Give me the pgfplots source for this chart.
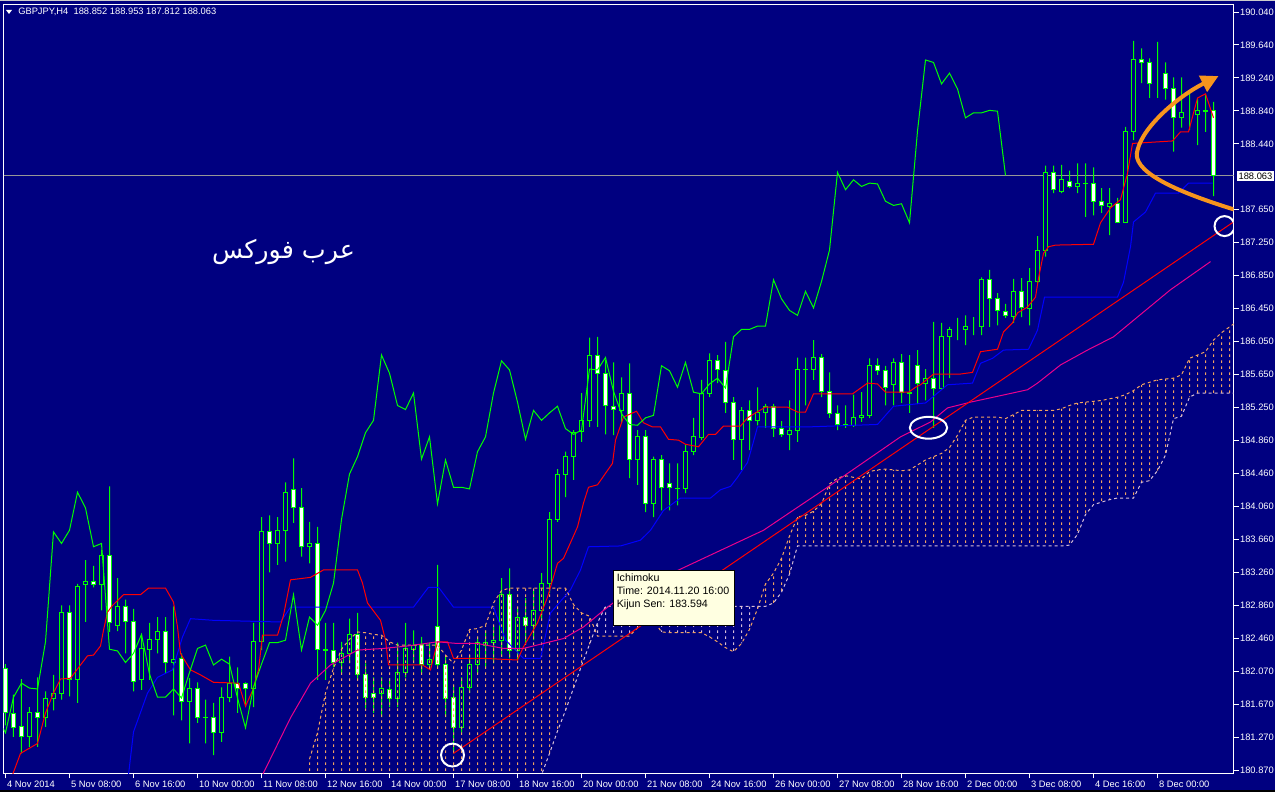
\documentclass[border=0pt]{standalone}
\usepackage{pgfplots}
\pgfplotsset{compat=1.18}
\usepackage{pgfplotstable}
\usetikzlibrary{arrows.meta,patterns}
\usepackage{fontspec}
\setmainfont{Liberation Sans}
\newfontfamily\arabicfont[Script=Arabic]{DejaVu Sans}
\TeXXeTstate=1

\definecolor{chartbg}{RGB}{0,0,128}
\definecolor{cgreen}{RGB}{0,255,0}
\definecolor{sandy}{RGB}{244,164,96}
\definecolor{thistle}{RGB}{216,191,216}
\definecolor{arrowor}{RGB}{247,148,29}
\definecolor{tipbg}{RGB}{255,255,225}
\definecolor{bidline}{RGB}{150,150,150}

% dotted hatching of the kumo: 3px on, 3px off
\pgfdeclarepatternformonly{vdash}{\pgfqpoint{0pt}{0pt}}{\pgfqpoint{1pt}{4.5pt}}{\pgfqpoint{1pt}{4.5pt}}%
  {\pgfpathrectangle{\pgfqpoint{0pt}{0pt}}{\pgfqpoint{1pt}{2.25pt}}\pgfusepath{fill}}

% 1px = 0.75pt, one bar = 8px; bar centres sit on pixel centres
\pgfplotsset{chartbase/.style={at={(2.625pt,16.125pt)}, anchor=south west,
  scale only axis, width=922.5pt, height=576.75pt,
  xmin=-0.25, xmax=153.5, ymin=180.827, ymax=190.131}}

% GBPJPY H4, one row per bar: index, open, high, low, close
\pgfplotstableread{
i o h l c
0 182.10 182.15 181.41 181.56
1 181.55 181.78 181.27 181.38
2 181.39 181.97 181.07 181.27
3 181.27 181.63 181.15 181.56
4 181.56 181.99 181.15 181.51
5 181.51 181.82 181.39 181.74
6 181.74 182.02 181.59 181.80
7 181.80 182.86 181.72 182.77
8 182.77 182.86 181.76 181.96
9 181.97 183.12 181.68 183.09
10 183.11 183.41 182.66 183.15
11 183.15 183.34 183.08 183.11
12 183.11 183.53 182.80 183.46
13 183.46 184.30 182.54 182.65
14 182.62 183.19 182.55 182.85
15 182.85 182.93 182.28 182.67
16 182.67 182.82 181.82 181.94
17 181.96 182.50 181.84 182.34
18 182.33 182.65 181.96 182.45
19 182.45 182.72 182.28 182.54
20 182.54 182.72 182.04 182.17
21 182.17 182.85 181.53 182.21
22 182.22 182.28 181.47 181.70
23 181.70 181.98 181.19 181.85
24 181.85 181.93 181.44 181.51
25 181.51 181.72 181.19 181.50
26 181.50 181.68 181.05 181.32
27 181.32 181.87 181.21 181.75
28 181.75 182.24 181.69 181.92
29 181.92 182.11 181.56 181.86
30 181.92 181.93 181.63 181.85
31 181.85 182.65 181.63 182.42
32 182.42 183.93 182.32 183.75
33 183.75 183.95 183.26 183.61
34 183.61 183.93 183.35 183.77
35 183.77 184.35 183.39 184.23
36 184.26 184.64 183.86 184.04
37 184.04 184.28 183.45 183.57
38 183.57 183.87 183.37 183.61
39 183.61 183.81 181.96 182.33
40 182.33 182.65 181.96 182.31
41 182.31 182.65 182.11 182.17
42 182.17 182.42 182.04 182.28
43 182.28 182.70 182.16 182.51
44 182.51 182.77 181.96 182.03
45 182.02 182.16 181.62 181.75
46 181.80 181.99 181.56 181.75
47 181.79 181.99 181.51 181.85
48 181.84 181.98 181.63 181.74
49 181.74 182.41 181.63 182.05
50 182.05 182.65 181.99 182.34
51 182.33 182.56 182.16 182.38
52 182.39 182.48 182.04 182.14
53 182.14 182.41 182.08 182.21
54 182.61 183.35 182.11 182.15
55 182.15 182.24 181.51 181.74
56 181.75 181.90 181.07 181.38
57 181.38 181.99 181.32 181.87
58 181.87 182.26 181.80 182.15
59 182.15 182.48 182.04 182.41
60 182.38 182.56 182.11 182.41
61 182.41 182.62 182.16 182.44
62 182.44 183.19 182.24 182.99
63 182.99 183.31 182.22 182.32
64 182.32 182.84 182.20 182.72
65 182.72 182.95 182.41 182.62
66 182.62 183.05 182.44 182.80
67 182.80 183.25 182.68 183.13
68 183.13 183.99 183.01 183.90
69 183.90 184.51 183.87 184.45
70 184.45 184.72 184.17 184.66
71 184.66 184.98 184.38 184.95
72 184.96 185.43 184.84 185.10
73 185.10 186.10 185.02 185.89
74 185.89 186.11 185.02 185.67
75 185.67 185.83 184.93 185.28
76 185.27 185.80 184.92 185.23
77 185.22 185.62 185.07 185.43
78 185.43 185.79 184.40 184.63
79 184.63 184.98 184.32 184.90
80 184.90 184.98 183.99 184.09
81 184.09 184.66 183.93 184.62
82 184.62 184.68 184.01 184.29
83 184.33 184.58 184.01 184.29
84 184.28 184.58 184.07 184.27
85 184.27 184.80 184.22 184.72
86 184.72 185.13 184.68 184.90
87 184.89 185.59 184.86 185.43
88 185.43 185.91 185.38 185.82
89 185.82 185.89 185.55 185.71
90 185.70 186.05 185.19 185.32
91 185.32 185.38 184.62 184.87
92 184.87 185.26 184.50 185.22
93 185.22 185.34 184.74 185.10
94 185.10 185.50 185.04 185.19
95 185.19 185.30 185.01 185.27
96 185.27 185.30 184.90 185.00
97 185.00 185.09 184.90 184.93
98 184.93 185.34 184.74 184.98
99 184.98 185.86 184.84 185.72
100 185.72 185.86 185.28 185.71
101 185.71 186.07 185.59 185.86
102 185.86 185.90 185.38 185.45
103 185.45 185.68 185.13 185.18
104 185.18 185.28 184.98 185.05
105 185.05 185.28 185.01 185.04
106 185.04 185.41 185.02 185.13
107 185.14 185.44 185.08 185.16
108 185.16 185.85 185.13 185.76
109 185.76 185.85 185.65 185.70
110 185.70 185.76 185.28 185.50
111 185.53 185.85 185.28 185.80
112 185.80 185.90 185.31 185.44
113 185.44 185.89 185.19 185.42
114 185.76 185.95 185.30 185.54
115 185.54 185.72 185.34 185.61
116 185.61 186.29 185.01 185.49
117 185.49 186.28 185.47 186.11
118 186.11 186.23 185.61 186.20
119 186.20 186.34 186.07 186.20
120 186.20 186.37 186.01 186.24
121 186.24 186.35 186.13 186.24
122 186.23 186.83 186.13 186.80
123 186.80 186.92 186.23 186.57
124 186.57 186.64 186.25 186.43
125 186.42 186.51 186.34 186.37
126 186.36 186.81 186.28 186.66
127 186.66 186.82 186.35 186.46
128 186.45 186.94 186.25 186.78
129 186.78 187.33 186.76 187.16
130 187.15 188.18 187.08 188.10
131 188.10 188.18 187.85 187.89
132 187.87 188.19 187.85 188.01
133 187.99 188.12 187.91 187.93
134 187.93 188.21 187.85 187.97
135 187.97 188.21 187.56 187.96
136 187.96 188.16 187.58 187.75
137 187.75 187.91 187.61 187.70
138 187.69 187.91 187.34 187.72
139 187.72 187.79 187.49 187.49
140 187.49 188.65 187.49 188.60
141 188.60 189.69 188.49 189.46
142 189.46 189.60 189.18 189.43
143 189.43 189.48 189.00 189.17
144 189.30 189.68 189.00 189.30
145 189.30 189.43 188.98 189.11
146 189.11 189.25 188.35 188.76
147 188.76 189.25 188.64 188.82
148 188.82 189.07 188.61 188.82
149 188.80 188.99 188.43 188.85
150 188.85 189.04 188.59 188.84
151 188.852 188.953 187.812 188.063
}\candles

% Senkou span A and B, already shifted 26 bars forward
\pgfplotstableread{
i A B
38 181.00 180.00
39 181.32 180.00
40 181.80 180.00
41 182.10 180.00
42 182.33 180.00
43 182.45 180.00
44 182.54 180.00
45 182.53 180.00
46 182.51 180.00
47 182.50 180.00
48 182.42 180.00
49 182.38 180.00
50 182.38 180.00
51 182.38 180.00
52 182.38 180.00
53 182.38 180.00
54 182.38 180.00
55 182.26 180.00
56 182.16 180.00
57 182.32 180.00
58 182.57 180.00
59 182.58 180.00
60 182.62 180.00
61 182.89 180.00
62 183.04 180.00
63 183.07 180.00
64 183.07 180.00
65 183.07 180.00
66 183.07 180.00
67 183.07 180.81
68 183.07 181.07
69 183.07 181.34
70 183.07 181.59
71 182.87 181.86
72 182.77 182.13
73 182.73 182.39
74 182.49 182.65
75 182.49 182.85
76 182.49 182.85
77 182.49 182.85
78 182.49 182.85
79 182.59 182.85
80 182.74 182.85
81 182.68 182.85
82 182.54 182.85
83 182.53 182.85
84 182.53 182.85
85 182.53 182.85
86 182.53 182.85
87 182.53 182.85
88 182.48 182.85
89 182.42 182.85
90 182.35 182.85
91 182.30 182.85
92 182.40 182.85
93 182.57 182.85
94 182.82 182.85
95 183.12 182.85
96 183.25 182.89
97 183.43 183.02
98 183.70 183.24
99 183.93 183.58
100 183.95 183.58
101 184.00 183.58
102 184.09 183.58
103 184.33 183.58
104 184.40 183.58
105 184.43 183.58
106 184.41 183.58
107 184.39 183.58
108 184.48 183.58
109 184.50 183.58
110 184.51 183.58
111 184.50 183.58
112 184.49 183.58
113 184.50 183.58
114 184.56 183.58
115 184.62 183.58
116 184.66 183.58
117 184.70 183.58
118 184.77 183.58
119 184.92 183.58
120 185.10 183.58
121 185.14 183.58
122 185.14 183.58
123 185.14 183.58
124 185.14 183.58
125 185.12 183.58
126 185.17 183.58
127 185.22 183.58
128 185.22 183.58
129 185.22 183.58
130 185.22 183.58
131 185.22 183.58
132 185.24 183.58
133 185.28 183.59
134 185.31 183.72
135 185.32 183.96
136 185.33 184.08
137 185.34 184.11
138 185.36 184.14
139 185.38 184.16
140 185.41 184.16
141 185.46 184.16
142 185.53 184.35
143 185.56 184.37
144 185.59 184.49
145 185.60 184.68
146 185.61 185.12
147 185.65 185.15
148 185.85 185.38
149 185.89 185.43
150 185.93 185.43
151 186.07 185.43
152 186.16 185.43
153 186.23 185.43
154 186.30 185.43
}\cloud

\begin{document}
\begin{tikzpicture}
\fill[chartbg] (0,0) rectangle (956.25pt,596.25pt);
% ---------- main axis: frame, ticks, bid line
\begin{axis}[chartbase,
  axis background/.style={fill=chartbg},
  axis line style={white, line width=0.75pt},
  tick style={white, line width=0.75pt},
  major tick length=3.75pt,
  tick align=outside,
  xtick pos=bottom, ytick pos=right,
  yticklabel pos=right,
  xtick={0,8,...,144},
  xticklabels={4 Nov 2014,5 Nov 08:00,6 Nov 16:00,10 Nov 00:00,11 Nov 08:00,12 Nov 16:00,14 Nov 00:00,17 Nov 08:00,18 Nov 16:00,20 Nov 00:00,21 Nov 08:00,24 Nov 16:00,26 Nov 00:00,27 Nov 08:00,28 Nov 16:00,2 Dec 00:00,3 Dec 08:00,4 Dec 16:00,8 Dec 00:00},
  xticklabel style={anchor=north west, text=white, inner sep=0pt, xshift=1pt, yshift=-1.5pt, font=\fontsize{7}{8}\selectfont},
  ytick={190.040,189.641,189.243,188.844,188.445,187.648,187.249,186.850,186.451,186.053,185.654,185.255,184.856,184.458,184.059,183.660,183.261,182.863,182.464,182.065,181.666,181.268,180.869},
  yticklabels={190.040,189.640,189.240,188.840,188.440,187.650,187.250,186.850,186.450,186.050,185.650,185.250,184.860,184.460,184.060,183.660,183.260,182.860,182.460,182.070,181.670,181.270,180.870},
  yticklabel style={anchor=west, text=white, inner sep=0pt, xshift=1pt, font=\fontsize{7}{8}\selectfont},
]
\addplot[bidline, line width=0.75pt] coordinates {(-0.25,188.063) (153.5,188.063)};
\end{axis}

% ---------- wicks: invisible base up to the low, green from low to high
\begin{axis}[chartbase, hide axis, ybar stacked, bar width=0.75pt, bar shift=0pt]
\addplot[draw=none, fill=none] table[x=i, y=l] {\candles};
\addplot[draw=none, fill=cgreen] table[x=i, y expr={\thisrow{h}-\thisrow{l}}] {\candles};
\end{axis}

% ---------- bodies: white for falling bars, hollow for rising bars
\begin{axis}[chartbase, hide axis, ybar stacked, bar width=3pt, bar shift=0pt]
\addplot[draw=none, fill=none] table[x=i, y expr={min(\thisrow{o},\thisrow{c})}] {\candles};
\addplot[draw=cgreen, line width=0.75pt, fill=white]
  table[x=i, y expr={max(\thisrow{o}-\thisrow{c},0)}] {\candles};
\addplot[draw=cgreen, line width=0.75pt, fill=chartbg]
  table[x=i, y expr={max(\thisrow{c}-\thisrow{o},0)}] {\candles};
\end{axis}

% ---------- kumo hatching, stacked between span A and span B
\begin{axis}[chartbase, hide axis, ybar stacked, bar width=0.75pt, bar shift=0pt]
\addplot[draw=none, fill=none] table[x=i, y expr={min(\thisrow{A},\thisrow{B})}] {\cloud};
\addplot[draw=none, pattern=vdash, pattern color=sandy]
  table[x=i, y expr={max(\thisrow{A}-\thisrow{B},0)}] {\cloud};
\addplot[draw=none, pattern=vdash, pattern color=thistle]
  table[x=i, y expr={max(\thisrow{B}-\thisrow{A},0)}] {\cloud};
\end{axis}

% ---------- lines and drawn objects
\begin{axis}[chartbase, hide axis]
% kijun sen
\addplot[blue, line width=0.75pt] coordinates {
(15.375,180.81) (16,181.33) (17.75,181.80) (19,181.99) (20.875,182.08)
(22.125,182.48) (23.125,182.70) (26,182.68) (34.375,182.66) (35.625,182.84)
(51,182.84) (52.875,183.08) (54.125,183.08) (56,182.84) (61,182.84)
(62.5,182.44) (64.75,182.22) (66.875,182.22) (68.125,182.77) (70.625,183.05)
(71.875,183.29) (72.875,183.57) (76.875,183.58) (79.375,183.65) (80.625,183.77)
(82.25,184.01) (84.375,184.16) (88.125,184.16) (89.375,184.26) (90.625,184.30)
(91.5,184.41) (92.75,184.59) (93.375,184.80) (94,185.02) (100.25,185.02)
(109,185.05) (111,185.27) (115,185.31) (116,185.39) (117.75,185.53)
(120.875,185.55) (121.875,185.79) (123.375,185.85) (124.75,185.95) (127.875,185.96)
(129,186.19) (129.875,186.59) (139,186.59) (139.75,186.77) (140.625,187.20)
(141,187.50) (142.5,187.62) (143.75,187.85) (146.625,187.85) (147.875,187.97)
(150.875,187.97)};

% tenkan sen
\addplot[red, line width=0.75pt] coordinates {
(0.875,180.81) (1.875,181.07) (4,181.19) (5,181.56) (6,181.80) (6.875,181.97)
(8.125,181.98) (9.375,182.14) (10.25,182.25) (11,182.26) (11.875,182.37)
(12.25,182.56) (12.75,182.78) (13.375,182.86) (14.75,182.99) (16.875,182.99)
(17.875,183.07) (20,183.07) (21,182.90) (21.5,182.60) (21.875,182.28)
(23.125,182.08) (24.375,182.02) (26,181.93) (29.125,181.92) (30,181.64)
(30.875,181.83) (31.625,182.08) (32.125,182.50) (34,182.50) (34.75,182.74)
(35.625,183.17) (38.125,183.20) (39.75,183.29) (44,183.29) (44.625,183.13)
(45.25,182.89) (46.875,182.68) (47.5,182.44) (47.875,182.14) (52.125,182.14)
(53.125,182.08) (54,182.42) (55.25,182.42) (56,182.22) (59.75,182.22)
(64,182.20) (64.75,182.36) (66.5,182.65) (67.75,182.96) (69,183.37)
(69.75,183.43) (71.5,183.81) (72.25,184.10) (72.875,184.29) (74,184.32)
(75.875,184.58) (76.25,184.86) (77.25,185.14) (78.875,185.21) (79.75,185.07)
(80.875,185.02) (81.875,185.02) (82.875,184.87) (84.125,184.86) (85,184.81)
(86.625,184.78) (87.875,184.93) (88.75,184.93) (89.75,185.03) (91.875,185.03)
(92.75,185.13) (93.75,185.19) (95,185.26) (97.75,185.26) (99,185.20)
(100,185.20) (101,185.42) (105.875,185.42) (107.75,185.55) (109,185.54)
(110,185.44) (112.875,185.44) (113.75,185.50) (114.375,185.53) (116,185.66)
(119.375,185.66) (120.875,185.68) (121.875,185.93) (124,185.96) (124.75,186.17)
(125.875,186.28) (126.5,186.40) (127.75,186.47) (128.75,186.59) (129.125,186.82)
(129.75,187.12) (130.375,187.20) (131.25,187.22) (136,187.23) (136.875,187.49)
(138.125,187.67) (139.375,187.77) (140.25,188.09) (140.875,188.45) (145.875,188.48)
(146.875,188.59) (147.875,188.59) (149,189.00) (150,189.05) (151,188.76)};

\addplot[sandy, line width=0.75pt, dash pattern=on 2.25pt off 2.25pt] table[x=i, y=A] {\cloud};
\addplot[thistle, line width=0.75pt, dash pattern=on 2.25pt off 2.25pt] table[x=i, y=B] {\cloud};

% chikou span: close drawn 26 bars back
\addplot[cgreen, line width=0.75pt] table[x expr={\thisrow{i}-26}, y=c] {\candles};

% moving average
\addplot[magenta, line width=0.75pt] coordinates {
(32.125,180.81) (35.625,181.50) (38.125,181.92) (40.625,182.14) (44,182.32)
(47.25,182.34) (50.25,182.37) (54,182.42) (56.5,182.40) (59,182.40)
(62.25,182.34) (64.75,182.34) (67.25,182.40) (69.75,182.46) (72.25,182.60)
(74.75,182.80) (76.875,182.96) (94.75,183.77) (103.5,184.34) (111.875,184.90)
(115.625,185.08) (117.75,185.25) (120.625,185.32) (123.5,185.38) (127.75,185.47)
(129,185.55) (131.875,185.77) (135.25,185.95) (138.5,186.11) (140.625,186.28)
(145.625,186.68) (150.625,187.02)};

% trend line
\addplot[red, line width=0.75pt] coordinates {(56,181.07) (153.5,187.50)};

\draw[white, line width=1.5pt] (axis cs:55.875,181.05) circle[radius=8.6pt];
\draw[white, line width=1.5pt] (axis cs:115.375,185.01) ellipse[x radius=14pt, y radius=8.2pt];
\draw[white, line width=1.5pt] (axis cs:152.375,187.45) circle[radius=7.5pt];
\draw[arrowor, line width=3pt, -{Triangle[length=13pt,width=13pt]}]
  (axis cs:153.8,187.644) .. controls (axis cs:145.625,187.886) and (axis cs:140.625,188.128)
  .. (axis cs:141.5,188.37) .. controls (axis cs:142.25,188.672) and (axis cs:146.875,189.036)
  .. (axis cs:151.625,189.265);

\node[text=white, font=\arabicfont\fontsize{19}{22}\selectfont] at (axis cs:34.75,187.14) {\beginR عرب فوركس\endR};

\node[anchor=north west, fill=tipbg, draw=black, line width=0.75pt, inner sep=0pt,
  minimum width=90.75pt, minimum height=41.25pt] at (axis cs:75.875,183.288) {};
\node[anchor=north west, inner sep=0pt, align=left, text=black,
  font=\fontsize{8}{9.75}\selectfont, xshift=3pt, yshift=-2.5pt] at (axis cs:75.875,183.288)
  {Ichimoku\\Time: 2014.11.20 16:00\\Kijun Sen: 183.594};
\end{axis}

\begin{scope}[x=0.75pt, y=-0.75pt, shift={(0,596.25pt)}]
\fill[white] (6,10) -- (12,10) -- (9,14) -- cycle;
\node[anchor=west, text=white, inner sep=0pt, font=\fontsize{7}{8}\selectfont] at (18,12)
  {GBPJPY,H4\ \ 188.852 188.953 187.812 188.063};
\node[anchor=west, fill=white, text=black, inner sep=1pt,
  font=\fontsize{7}{8}\selectfont] at (1237,176) {188.063};
\draw[black!20, line width=0.75pt] (0,0.5) -- (1275,0.5);
\fill[black] (0,790) rectangle (1275,792);
\fill[white] (0,792) rectangle (1275,795);
\end{scope}
\pgfresetboundingbox
\useasboundingbox (0,0) rectangle (956.25pt,596.25pt);
\end{tikzpicture}
\end{document}
